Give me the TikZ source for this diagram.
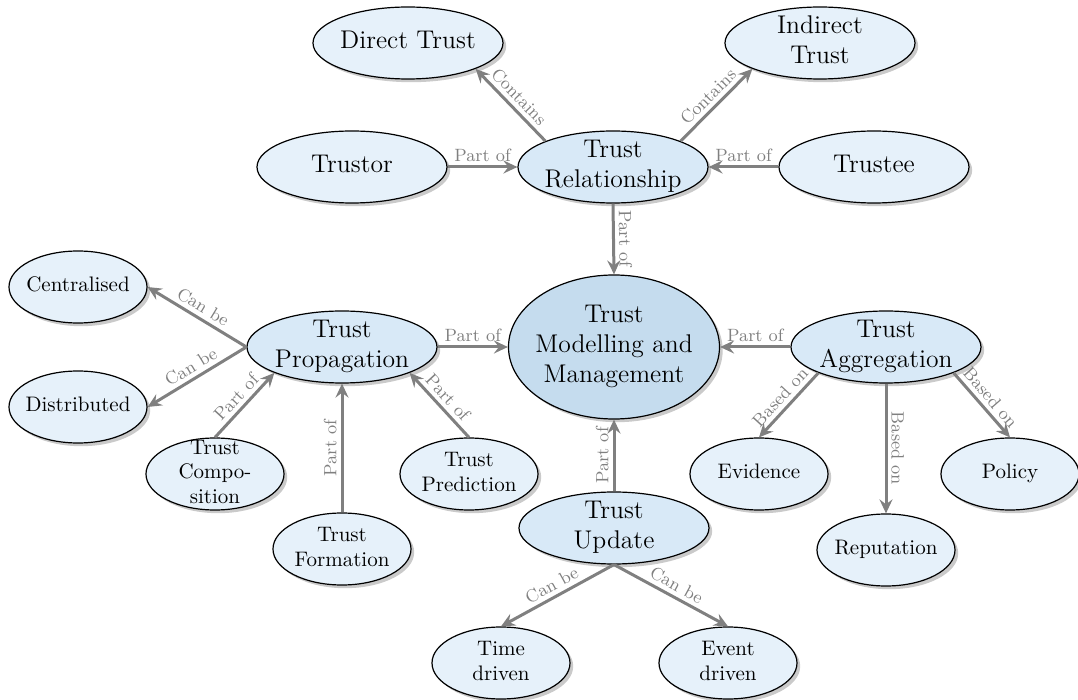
\documentclass[tikz,border=0pt]{standalone}
\usetikzlibrary{shapes.geometric,shadows,arrows.meta}
\definecolor{cmain}{RGB}{197,220,238}
\definecolor{cmid}{RGB}{216,233,247}
\definecolor{cleaf}{RGB}{230,241,250}
\newcommand{\zb}[1]{\vbox to 0pt{\vss\hbox to 0pt{\hss\begin{tabular}{@{}c@{}}#1\end{tabular}\hss}\vss}}
\newcommand{\bigfnt}{\fontsize{12.8}{15}\selectfont}
\newcommand{\leaffnt}{\fontsize{10.5}{12.2}\selectfont}
\newcommand{\lblfnt}{\fontsize{8.9}{10.5}\selectfont}
\tikzset{
  base/.style={ellipse, draw=black, line width=0.6pt, inner sep=0pt,
    drop shadow={shadow xshift=1.6pt, shadow yshift=-1.6pt, fill=black!35, opacity=0.6}},
  mainnode/.style={base, fill=cmain, minimum width=105.5pt, minimum height=72pt, font=\bigfnt},
  midnode/.style={base, fill=cmid, minimum width=95pt, minimum height=36pt, font=\bigfnt},
  topnode/.style={base, fill=cleaf, minimum width=95pt, minimum height=36pt, font=\bigfnt},
  leafnode/.style={base, fill=cleaf, minimum width=69pt, minimum height=36pt, font=\leaffnt},
  conn/.style={draw=gray, line width=1.5pt, -{Stealth[length=7pt,width=6.5pt,inset=2.5pt]}},
  lbl/.style={sloped, above, font=\lblfnt, text=gray, inner sep=2pt}
}
\begin{document}
\begin{tikzpicture}[x=0.5pt, y=-0.5pt]
\useasboundingbox (0,0) rectangle (1078,700);
% main
\node[mainnode] (central) at (614,347) {\zb{Trust\\Modelling and\\Management}};
% level 1
\node[midnode] (rel) at (613,167) {\zb{Trust\\Relationship}};
\node[midnode] (prop) at (342,347) {\zb{Trust\\Propagation}};
\node[midnode] (agg) at (886,347) {\zb{Trust\\Aggregation}};
\node[midnode] (upd) at (614,528) {\zb{Trust\\Update}};
% top
\node[topnode] (direct) at (408,43) {\zb{Direct Trust}};
\node[topnode] (indirect) at (820,43) {\zb{Indirect\\Trust}};
\node[topnode] (trustor) at (352,167) {\zb{Trustor}};
\node[topnode] (trustee) at (874,167) {\zb{Trustee}};
% left
\node[leafnode] (cent) at (78,287) {\zb{Centralised}};
\node[leafnode] (dist) at (78,407) {\zb{Distributed}};
\node[leafnode] (comp) at (215,474) {\zb{Trust\\Compo-\\sition}};
\node[leafnode] (form) at (342,549) {\zb{Trust\\Formation}};
\node[leafnode] (pred) at (469,474) {\zb{Trust\\Prediction}};
% right
\node[leafnode] (evid) at (759,474) {\zb{Evidence}};
\node[leafnode] (repu) at (886,550) {\zb{Reputation}};
\node[leafnode] (poli) at (1010,474) {\zb{Policy}};
% bottom
\node[leafnode] (time) at (501,663) {\zb{Time\\driven}};
\node[leafnode] (event) at (728,663) {\zb{Event\\driven}};
% connectors
\draw[conn] (rel.north west) -- node[lbl] {Contains} (direct.south east);
\draw[conn] (rel.north east) -- node[lbl] {Contains} (indirect.south west);
\draw[conn] (trustor.east) -- node[lbl] {Part of} (rel.west);
\draw[conn] (trustee.west) -- node[lbl] {Part of} (rel.east);
\draw[conn] (rel.south) -- node[lbl] {Part of} (central.north);
\draw[conn] (prop.east) -- node[lbl] {Part of} (central.west);
\draw[conn] (agg.west) -- node[lbl] {Part of} (central.east);
\draw[conn] (upd.north) -- node[lbl] {Part of} (central.south);
\draw[conn] (prop.west) -- node[lbl] {Can be} (cent.east);
\draw[conn] (prop.west) -- node[lbl] {Can be} (dist.east);
\draw[conn] (comp.north) -- node[lbl] {Part of} (prop.south west);
\draw[conn] (form.north) -- node[lbl] {Part of} (prop.south);
\draw[conn] (pred.north) -- node[lbl] {Part of} (prop.south east);
\draw[conn] (agg.south west) -- node[lbl] {Based on} (evid.north);
\draw[conn] (agg.south) -- node[lbl] {Based on} (repu.north);
\draw[conn] (agg.south east) -- node[lbl] {Based on} (poli.north);
\draw[conn] (upd.south) -- node[lbl] {Can be} (time.north);
\draw[conn] (upd.south) -- node[lbl] {Can be} (event.north);
\end{tikzpicture}
\end{document}
